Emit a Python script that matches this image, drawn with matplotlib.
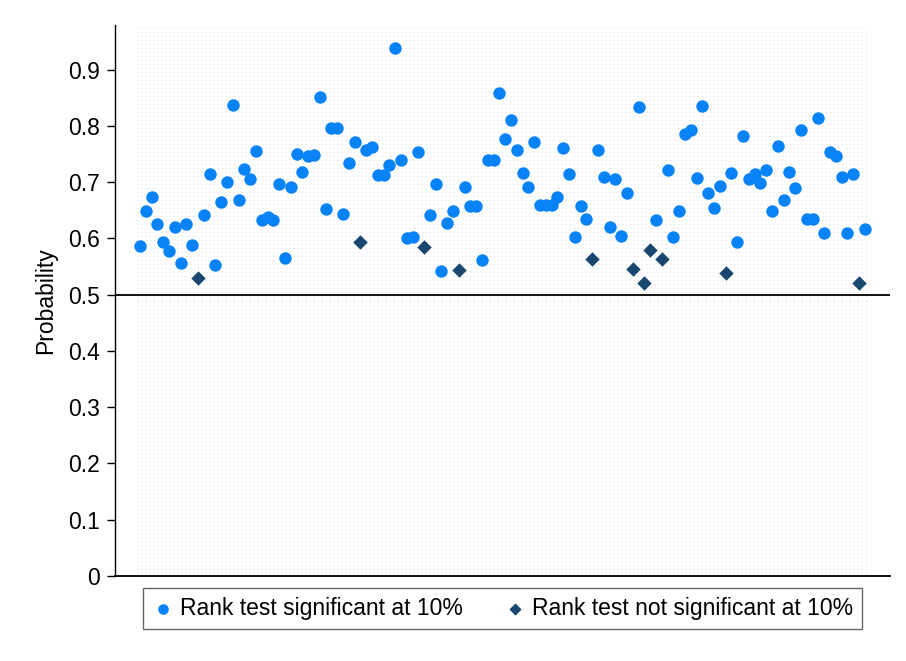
#!/usr/bin/env python3
"""Probability by item, split by whether the rank test is significant at 10%."""

import matplotlib

matplotlib.use("Agg")
import matplotlib.pyplot as plt
import numpy as np

# probability for each item, in plotting order
PROB = [
    0.587, 0.648, 0.674, 0.626, 0.594, 0.578, 0.621, 0.557, 0.625, 0.589,
    0.530, 0.642, 0.714, 0.553, 0.665, 0.701, 0.838, 0.669, 0.723, 0.705,
    0.756, 0.632, 0.639, 0.632, 0.696, 0.566, 0.692, 0.751, 0.719, 0.747,
    0.749, 0.851, 0.653, 0.797, 0.797, 0.644, 0.735, 0.772, 0.594, 0.758,
    0.763, 0.712, 0.712, 0.731, 0.938, 0.740, 0.601, 0.603, 0.753, 0.585,
    0.642, 0.696, 0.543, 0.627, 0.649, 0.544, 0.692, 0.658, 0.657, 0.562,
    0.740, 0.740, 0.858, 0.776, 0.810, 0.758, 0.717, 0.692, 0.772, 0.660,
    0.660, 0.660, 0.674, 0.760, 0.714, 0.603, 0.657, 0.635, 0.564, 0.758,
    0.710, 0.621, 0.706, 0.605, 0.680, 0.546, 0.834, 0.520, 0.580, 0.633,
    0.564, 0.722, 0.603, 0.648, 0.785, 0.792, 0.708, 0.836, 0.680, 0.655,
    0.694, 0.539, 0.717, 0.594, 0.783, 0.706, 0.715, 0.698, 0.721, 0.648,
    0.765, 0.669, 0.719, 0.689, 0.792, 0.635, 0.635, 0.815, 0.610, 0.753,
    0.746, 0.710, 0.610, 0.715, 0.521, 0.617,
]
# items whose rank test is not significant (1-based positions)
NOT_SIG = [11, 39, 50, 56, 79, 86, 88, 89, 91, 102, 125]

LABEL_SIG = "Rank test significant at 10%"
LABEL_NOT = "Rank test not significant at 10%"
YTICKS = [0, 0.1, 0.2, 0.3, 0.4, 0.5, 0.6, 0.7, 0.8, 0.9]

BLUE = "#0783f7"
NAVY = "#1a476f"
FS = 16.5


def main() -> None:
    prob = np.array(PROB)
    idx = np.arange(1, len(prob) + 1)
    ns = np.isin(idx, NOT_SIG)

    plt.rcParams["font.family"] = ["Liberation Sans", "DejaVu Sans"]
    fig = plt.figure(figsize=(9.06, 6.61), dpi=100)
    ax = fig.add_axes([0.127, 0.1286, 0.855, 0.834])

    x0, x1 = -3.3, 130.3
    y0, y1 = 0.0, 0.98
    ax.set_xlim(x0, x1)
    ax.set_ylim(y0, y1)

    # faint dotted plot-region background
    h, w = 551, 729
    tex = np.zeros((h, w, 4))
    tex[::4, ::4] = (0.87, 0.90, 0.92, 1.0)
    ax.imshow(tex, extent=(0.66, 126.34, y0, y1), aspect="auto",
              interpolation="nearest", zorder=0)

    ax.axhline(0.5, color="black", lw=1.3, zorder=1)

    ax.scatter(idx[~ns], prob[~ns], s=80, marker="o", color=BLUE,
               linewidths=0, zorder=3, label=LABEL_SIG)
    ax.scatter(idx[ns], prob[ns], s=54, marker="D", color=NAVY,
               linewidths=0, zorder=3, label=LABEL_NOT)

    for side in ("top", "right"):
        ax.spines[side].set_visible(False)
    ax.spines["left"].set_linewidth(1.0)
    ax.spines["bottom"].set_linewidth(1.3)
    ax.set_xticks([])
    ax.set_yticks(YTICKS)
    ax.set_yticklabels(["0"] + [f"{v:.1f}" for v in YTICKS[1:]])
    ax.tick_params(axis="y", length=6, width=1.0, pad=5, labelsize=FS)
    ax.set_ylabel("Probability", fontsize=FS, labelpad=8)

    leg = fig.legend(loc="center", bbox_to_anchor=(0.5546, 0.079), ncol=2,
                     fontsize=FS, frameon=True, fancybox=False,
                     edgecolor="#404040", markerscale=0.85,
                     handletextpad=0.25, columnspacing=1.75,
                     borderpad=0.4, handlelength=1.0, borderaxespad=0)
    leg.get_frame().set_linewidth(1.0)

    fig.savefig("out.png", dpi=100)


if __name__ == "__main__":
    main()
